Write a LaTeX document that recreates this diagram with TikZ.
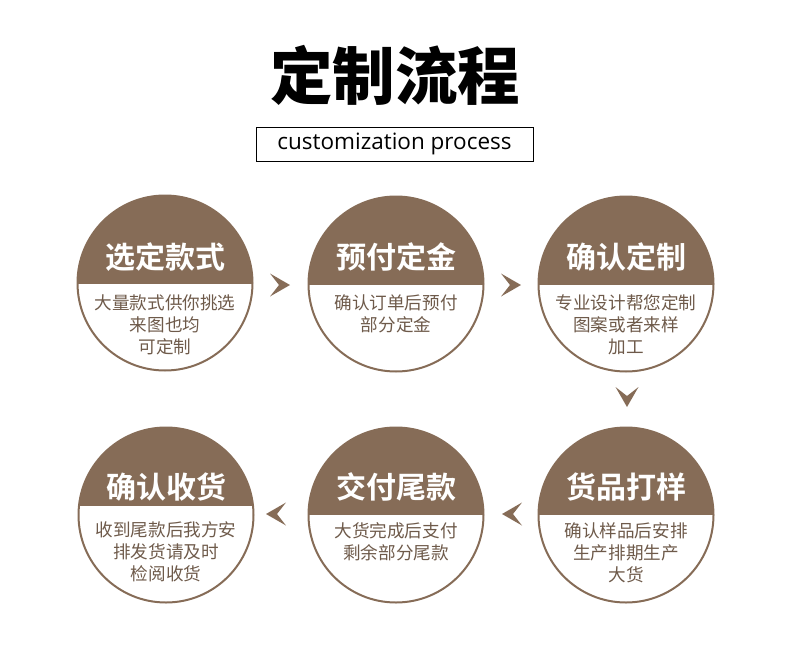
\documentclass[tikz,border=0pt]{standalone}
\usepackage{fontspec}
\setmainfont{Noto Sans CJK SC}
\newfontfamily\cjkblack{Noto Sans CJK SC Black}
\newfontfamily\cjkbold{Noto Sans CJK SC Bold}
\newfontfamily\latinfont{Open Sans}
\definecolor{brownfill}{HTML}{866C57}
\definecolor{bodytext}{HTML}{6E5A4A}
\tikzset{
  stepcircle/.style={circle, draw=brownfill, line width=2pt, minimum size=175pt, inner sep=0pt},
  headtext/.style={text=white, font=\cjkbold\fontsize{30}{33}\selectfont, inner sep=0pt},
  bodyline/.style={text=bodytext, font=\fontsize{17.6}{21}\selectfont, inner sep=0pt},
  chev/.pic={\fill[brownfill] (10,0) -- (-10,-11.5) -- (-1,0) -- (-10,11.5) -- cycle;}
}
\begin{document}
\begin{tikzpicture}[x=1pt,y=-1pt]
\useasboundingbox (0,0) rectangle (790,648);
% title
\node[font=\cjkblack\fontsize{62.5}{68}\selectfont, inner sep=0pt] (title) at (395,75) {定制流程};
\node[draw=black, line width=0.9pt, minimum width=277pt, minimum height=34pt, inner sep=0pt,
      font=\latinfont\fontsize{22.5}{26}\selectfont] (sub) at (394.5,144) {customization process};

% circles
\foreach \n/\cx/\cy/\dy in {c1/165/283/1, c2/396/284/1, c3/626/284/1, c4/166/515/-9, c5/396/515/0, c6/626/515/0}{
  \begin{scope}
    \clip (\cx,\cy) circle (87.5);
    \fill[brownfill] (\cx-90,\cy-90) rectangle (\cx+90,\cy+\dy);
  \end{scope}
  \node[stepcircle] (\n) at (\cx,\cy) {};
}

% texts circle 1
\node[headtext] (h1) at (165,257) {选定款式};
\node[bodyline] (b1a) at (165,303) {大量款式供你挑选};
\node[bodyline] (b1b) at (165,325) {来图也均};
\node[bodyline] (b1c) at (165,347) {可定制};
% circle 2
\node[headtext] (h2) at (396,257) {预付定金};
\node[bodyline] (b2a) at (396,303) {确认订单后预付};
\node[bodyline] (b2b) at (396,325) {部分定金};
% circle 3
\node[headtext] (h3) at (626,257) {确认定制};
\node[bodyline] (b3a) at (626,303) {专业设计帮您定制};
\node[bodyline] (b3b) at (626,325) {图案或者来样};
\node[bodyline] (b3c) at (626,347) {加工};
% circle 4
\node[headtext] (h4) at (166,487) {确认收货};
\node[bodyline] (b4a) at (166,530) {收到尾款后我方安};
\node[bodyline] (b4b) at (166,552) {排发货请及时};
\node[bodyline] (b4c) at (166,574) {检阅收货};
% circle 5
\node[headtext] (h5) at (396,487) {交付尾款};
\node[bodyline] (b5a) at (396,531) {大货完成后支付};
\node[bodyline] (b5b) at (396,553) {剩余部分尾款};
% circle 6
\node[headtext] (h6) at (626,487) {货品打样};
\node[bodyline] (b6a) at (626,531) {确认样品后安排};
\node[bodyline] (b6b) at (626,553) {生产排期生产};
\node[bodyline] (b6c) at (626,575) {大货};

% chevrons
\pic at (280,285) {chev};
\pic at (511,285) {chev};
\pic[rotate=-90] at (627,397) {chev};
\pic[rotate=180] at (512,514) {chev};
\pic[rotate=180] at (276,514) {chev};
\end{tikzpicture}
\end{document}
